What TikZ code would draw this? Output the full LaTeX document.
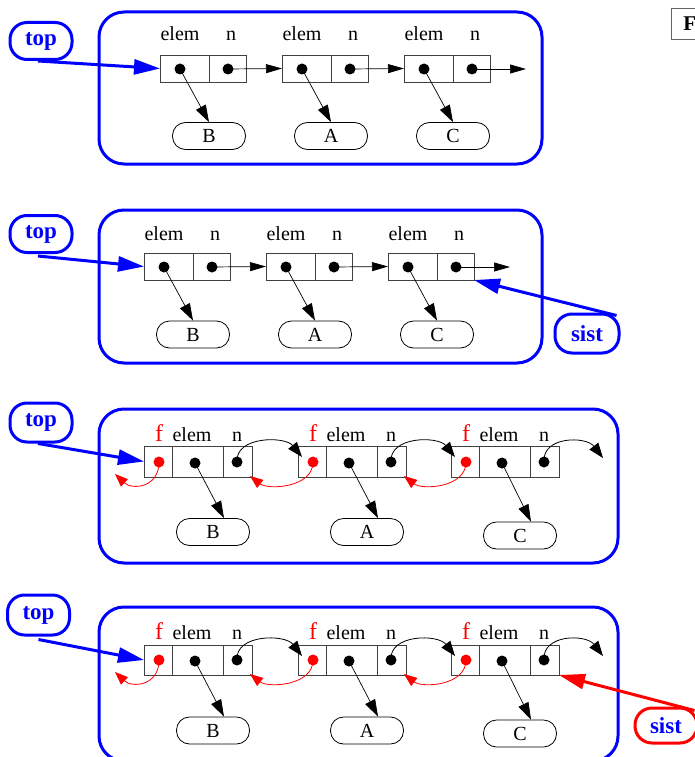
\documentclass[tikz,border=0pt]{standalone}
\usepackage{fontspec}
\setmainfont{Liberation Serif}
\usetikzlibrary{arrows.meta,calc}
\begin{document}
\begin{tikzpicture}[x=1pt,y=-1pt,
 frame/.style={draw=blue, line width=3pt, rounded corners=25pt},
 cell/.style={draw=black!75, line width=0.9pt, inner sep=0pt, outer sep=0pt},
 dotb/.style={circle, fill=black, inner sep=0pt, minimum size=11pt},
 dotr/.style={circle, fill=red, inner sep=0pt, minimum size=11pt},
 pill/.style={draw, line width=0.8pt, rounded corners=13pt, minimum width=73pt, minimum height=27pt, inner sep=0pt, font=\fontsize{20}{22}\selectfont},
 lbl/.style={anchor=base, inner sep=0pt, font=\fontsize{20}{22}\selectfont},
 flbl/.style={anchor=base, inner sep=0pt, text=red, font=\fontsize{24}{26}\selectfont},
 ptr/.style={-{Triangle[length=16pt,width=9pt]}, line width=0.7pt},
 eptr/.style={-{Triangle[length=17pt,width=11pt]}, line width=0.7pt},
 cptr/.style={-{Triangle[length=15pt,width=11pt]}, line width=0.8pt},
 rptr/.style={-{Triangle[length=13pt,width=10pt]}, draw=red, line width=0.8pt},
 tag/.style={draw=blue, line width=3pt, rounded corners=17pt, text=blue, font=\bfseries\fontsize{23}{26}\selectfont, minimum width=62pt, minimum height=37pt, inner sep=0pt},
 bptr/.style={-{Triangle[length=26pt,width=15pt]}, draw=blue, line width=3pt},
 rbptr/.style={-{Triangle[length=26pt,width=15pt]}, draw=red, line width=3pt},
]
\useasboundingbox (0,0) rectangle (695,757);

% top-right box (cut off)
\node[draw=black!60, line width=0.8pt, anchor=north west, minimum height=31pt, inner xsep=12pt, inner ysep=0pt, font=\bfseries\fontsize{21}{23}\selectfont] (fbox) at (671,8) {F};

%% ---------- Panel 1 ----------
\draw[frame] (99,12) rectangle (542,164);
\foreach \i/\x/\lab in {1/160/B,2/282/A,3/404/C}{
 \node[cell,minimum width=49pt,minimum height=27pt,anchor=north west] (ae\i) at (\x,55) {};
 \node[cell,minimum width=37pt,minimum height=27pt,anchor=west] (an\i) at (ae\i.east) {};
 \node[lbl] (ael\i) at (\x+20,41) {elem};
 \node[lbl] (anl\i) at (\x+71,41) {n};
 \node[dotb] (aed\i) at (\x+20,69) {};
 \node[dotb] (and\i) at (\x+68,69) {};
 \node[pill] (ap\i) at (\x+49,136) {\lab};
 \draw[eptr] (aed\i.center) -- (ap\i.north);
}
\draw[ptr] (and1.center) -- (ae2.west);
\draw[ptr] (and2.center) -- (ae3.west);
\coordinate (aend) at (526,69);
\draw[ptr] (and3.center) -- (aend);
\node[tag] (top1) at (41,41) {top};
\draw[bptr] ($(top1.south)+(-3,0)$) -- (ae1.west);

%% ---------- Panel 2 ----------
\draw[frame] (99,210) rectangle (542,363);
\foreach \i/\x/\lab in {1/144/B,2/266/A,3/388/C}{
 \node[cell,minimum width=49pt,minimum height=27pt,anchor=north west] (be\i) at (\x,253) {};
 \node[cell,minimum width=37pt,minimum height=27pt,anchor=west] (bn\i) at (be\i.east) {};
 \node[lbl] (bel\i) at (\x+20,240) {elem};
 \node[lbl] (bnl\i) at (\x+71,240) {n};
 \node[dotb] (bed\i) at (\x+20,267) {};
 \node[dotb] (bnd\i) at (\x+68,267) {};
 \node[pill] (bp\i) at (\x+49,334.5) {\lab};
 \draw[eptr] (bed\i.center) -- (bp\i.north);
}
\draw[ptr] (bnd1.center) -- (be2.west);
\draw[ptr] (bnd2.center) -- (be3.west);
\coordinate (bend) at (510,267);
\draw[ptr] (bnd3.center) -- (bend);
\node[tag] (top2) at (41,234) {top};
\draw[bptr] ($(top2.south)+(-3,2)$) -- (be1.west);
\node[tag, minimum width=64pt, minimum height=39pt] (sist2) at (587,333.5) {sist};
\draw[bptr] ($(sist2.north east)+(-4,3)$) -- (bn3.south east);

%% ---------- Panel 3 ----------
\draw[frame] (99,409) rectangle (618,563);
\foreach \i/\x/\lab/\py in {1/144/B/532,2/298/A/532,3/451/C/535.5}{
 \node[cell,minimum width=28pt,minimum height=31pt,anchor=north west] (cf\i) at (\x,446) {};
 \node[cell,minimum width=51pt,minimum height=31pt,anchor=west] (ce\i) at (cf\i.east) {};
 \node[cell,minimum width=29pt,minimum height=31pt,anchor=west] (cn\i) at (ce\i.east) {};
 \node[flbl] (cfl\i) at (\x+15,441) {f};
 \node[lbl] (cel\i) at (\x+48,441) {elem};
 \node[lbl] (cnl\i) at (\x+93,441) {n};
 \node[dotr] (cfd\i) at (\x+15,462) {};
 \node[dotb] (ced\i) at (\x+51,463) {};
 \node[dotb] (cnd\i) at (\x+93,462) {};
 \node[pill] (cp\i) at (\x+69,\py) {\lab};
 \draw[eptr] (ced\i.center) -- ($(cp\i.north)+(11,0)$);
}
% next pointers
\draw[cptr] (cnd1.center) .. controls (235,436) and (285,436) .. ($(cf2.north west)+(4,11)$);
\draw[cptr] (cnd2.center) .. controls (389,436) and (438,436) .. ($(cf3.north west)+(4,11)$);
\coordinate (cend) at (603,458);
\draw[cptr] (cnd3.center) .. controls (542,436) and (586,436) .. (cend);
% previous pointers
\coordinate (cstart) at (115,474);
\draw[rptr] (cfd1.center) .. controls (159,488) and (132,490) .. (cstart);
\draw[rptr] (cfd2.center) .. controls (313,488) and (268,490) .. ($(cn1.south east)+(-2,-1)$);
\draw[rptr] (cfd3.center) .. controls (466,488) and (422,490) .. ($(cn2.south east)+(-2,-1)$);
\node[tag, minimum height=39pt] (top3) at (41,422.5) {top};
\draw[bptr] ($(top3.south)+(-3,0)$) -- (cf1.west);

%% ---------- Panel 4 ----------
\draw[frame] (99,607) rectangle (618,761);
\foreach \i/\x/\lab/\py in {1/144/B/730.5,2/298/A/730.5,3/451/C/733.5}{
 \node[cell,minimum width=28pt,minimum height=30pt,anchor=north west] (df\i) at (\x,645) {};
 \node[cell,minimum width=51pt,minimum height=30pt,anchor=west] (de\i) at (df\i.east) {};
 \node[cell,minimum width=29pt,minimum height=30pt,anchor=west] (dn\i) at (de\i.east) {};
 \node[flbl] (dfl\i) at (\x+15,639) {f};
 \node[lbl] (del\i) at (\x+48,639) {elem};
 \node[lbl] (dnl\i) at (\x+93,639) {n};
 \node[dotr] (dfd\i) at (\x+15,660) {};
 \node[dotb] (ded\i) at (\x+51,661) {};
 \node[dotb] (dnd\i) at (\x+93,660) {};
 \node[pill] (dp\i) at (\x+69,\py) {\lab};
 \draw[eptr] (ded\i.center) -- ($(dp\i.north)+(11,0)$);
}
\draw[cptr] (dnd1.center) .. controls (235,634) and (285,634) .. ($(df2.north west)+(4,11)$);
\draw[cptr] (dnd2.center) .. controls (389,634) and (438,634) .. ($(df3.north west)+(4,11)$);
\coordinate (dend) at (603,656);
\draw[cptr] (dnd3.center) .. controls (542,634) and (586,634) .. (dend);
\coordinate (dstart) at (115,672);
\draw[rptr] (dfd1.center) .. controls (159,686) and (132,688) .. (dstart);
\draw[rptr] (dfd2.center) .. controls (313,686) and (268,688) .. ($(dn1.south east)+(-2,-1)$);
\draw[rptr] (dfd3.center) .. controls (466,686) and (422,688) .. ($(dn2.south east)+(-2,-1)$);
\node[tag, minimum height=40pt] (top4) at (38.5,615) {top};
\draw[bptr] ($(top4.south)+(0,3)$) -- (df1.west);
\node[tag, draw=red, minimum width=62pt, minimum height=35pt] (sist4) at (666,725.5) {sist};
\draw[rbptr] ($(sist4.north east)+(-4,4)$) -- (dn3.south east);
\end{tikzpicture}
\end{document}
